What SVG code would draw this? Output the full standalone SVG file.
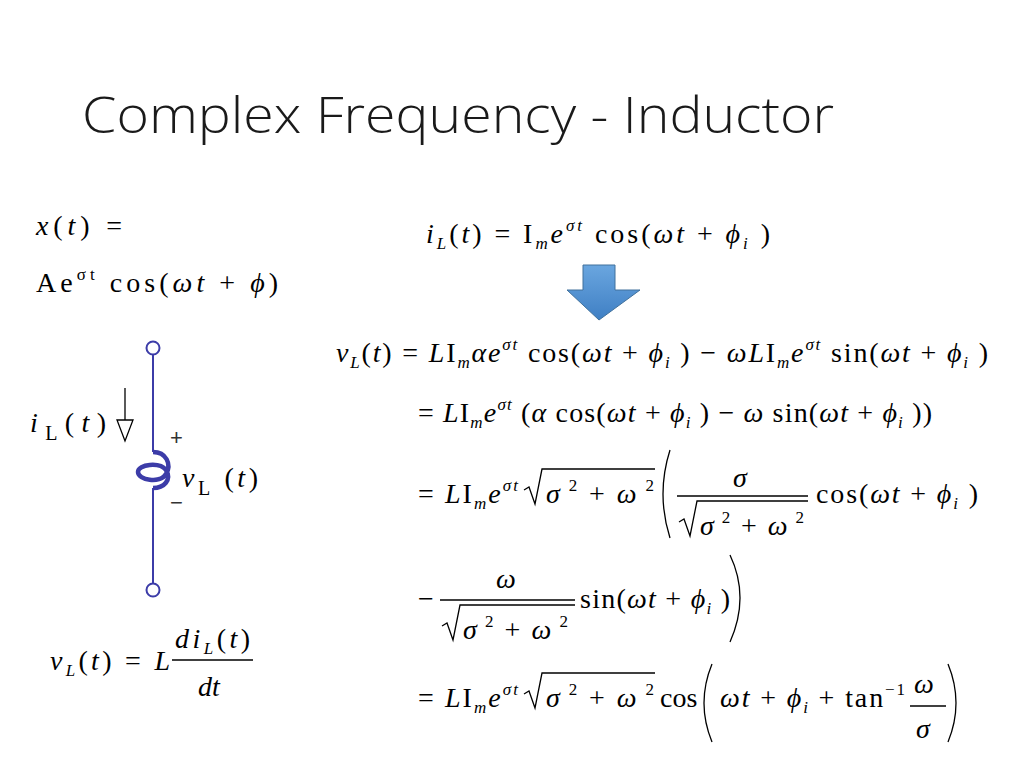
<svg xmlns="http://www.w3.org/2000/svg" width="1024" height="768" viewBox="0 0 1024 768">
<defs>
<linearGradient id="ag" x1="0" y1="0" x2="0" y2="1"><stop offset="0" stop-color="#6aa6df"/><stop offset="1" stop-color="#3f7fc4"/></linearGradient>
</defs>
<style>
.m{font-family:"Liberation Serif",serif;font-size:28px;fill:#000}
.i{font-style:italic}
.s{font-size:17px}
.ln{stroke:#000;stroke-width:1.3;fill:none}
.c{stroke:#3c3ca8;stroke-width:2;fill:none}
</style>
<rect width="1024" height="768" fill="#fff"/>
<text x="82" y="133" font-family="'Open Sans',sans-serif" font-weight="300" font-size="50" fill="#1a1a1a" textLength="752" lengthAdjust="spacingAndGlyphs">Complex Frequency - Inductor</text>

<text class="m" x="36" y="235" textLength="86"><tspan class="i">x</tspan>(<tspan class="i">t</tspan>) =</text>
<text class="m" x="36" y="292" textLength="242">Ae<tspan class="s" dy="-12">σt</tspan><tspan dy="12"> cos(</tspan><tspan class="i">ωt</tspan> + <tspan class="i">ϕ</tspan>)</text>

<text class="m" x="426" y="243" textLength="344"><tspan class="i">i</tspan><tspan class="s i" dy="6">L</tspan><tspan dy="-6">(</tspan><tspan class="i">t</tspan>) = I<tspan class="s i" dy="6">m</tspan><tspan class="i" dy="-6">e</tspan><tspan class="s i" dy="-12">σt</tspan><tspan dy="12"> cos(</tspan><tspan class="i">ωt</tspan> + <tspan class="i">ϕ</tspan><tspan class="s i" dy="6">i</tspan><tspan dy="-6"> )</tspan></text>

<path d="M583 265H615V290H640L599 320L567 290H583Z" fill="url(#ag)" stroke="#41719c" stroke-width="1"/>

<text class="m" x="336" y="362" textLength="652"><tspan class="i">v</tspan><tspan class="s i" dy="6">L</tspan><tspan dy="-6">(</tspan><tspan class="i">t</tspan>) = <tspan class="i">L</tspan>I<tspan class="s i" dy="6">m</tspan><tspan class="i" dy="-6">αe</tspan><tspan class="s i" dy="-12">σt</tspan><tspan dy="12"> cos(</tspan><tspan class="i">ωt</tspan> + <tspan class="i">ϕ</tspan><tspan class="s i" dy="6">i</tspan><tspan dy="-6"> ) − </tspan><tspan class="i">ωL</tspan>I<tspan class="s i" dy="6">m</tspan><tspan class="i" dy="-6">e</tspan><tspan class="s i" dy="-12">σt</tspan><tspan dy="12"> sin(</tspan><tspan class="i">ωt</tspan> + <tspan class="i">ϕ</tspan><tspan class="s i" dy="6">i</tspan><tspan dy="-6"> )</tspan></text>

<text class="m" x="418" y="422" textLength="514">= <tspan class="i">L</tspan>I<tspan class="s i" dy="6">m</tspan><tspan class="i" dy="-6">e</tspan><tspan class="s i" dy="-12">σt</tspan><tspan dy="12"> (</tspan><tspan class="i">α</tspan> cos(<tspan class="i">ωt</tspan> + <tspan class="i">ϕ</tspan><tspan class="s i" dy="6">i</tspan><tspan dy="-6"> ) − </tspan><tspan class="i">ω</tspan> sin(<tspan class="i">ωt</tspan> + <tspan class="i">ϕ</tspan><tspan class="s i" dy="6">i</tspan><tspan dy="-6"> ))</tspan></text>

<!-- line 3 -->
<text class="m" x="418" y="503" textLength="100">= <tspan class="i">L</tspan>I<tspan class="s i" dy="6">m</tspan><tspan class="i" dy="-6">e</tspan><tspan class="s i" dy="-12">σt</tspan></text>
<path class="ln" d="M524 490L529 487L535 504L542 469H655"/>
<text class="m" x="546" y="503" textLength="108"><tspan class="i">σ</tspan><tspan class="s" dy="-12"> 2</tspan><tspan dy="12"> + </tspan><tspan class="i">ω</tspan><tspan class="s" dy="-12"> 2</tspan></text>
<path class="ln" d="M670 450Q656 494 670 538"/>
<text class="m i" x="733" y="487">σ</text>
<path class="ln" d="M677 496H808"/>
<path class="ln" d="M679 522L684 519L690 536L697 501H808"/>
<text class="m" x="700" y="535" textLength="104"><tspan class="i">σ</tspan><tspan class="s" dy="-12"> 2</tspan><tspan dy="12"> + </tspan><tspan class="i">ω</tspan><tspan class="s" dy="-12"> 2</tspan></text>
<text class="m" x="816" y="503" textLength="162">cos(<tspan class="i">ωt</tspan> + <tspan class="i">ϕ</tspan><tspan class="s i" dy="6">i</tspan><tspan dy="-6"> )</tspan></text>

<!-- line 4 -->
<text class="m" x="418" y="608">−</text>
<text class="m i" x="496" y="588">ω</text>
<path class="ln" d="M440 600H575"/>
<path class="ln" d="M442 626L447 623L453 640L460 605H575"/>
<text class="m" x="463" y="639" textLength="105"><tspan class="i">σ</tspan><tspan class="s" dy="-12"> 2</tspan><tspan dy="12"> + </tspan><tspan class="i">ω</tspan><tspan class="s" dy="-12"> 2</tspan></text>
<text class="m" x="580" y="608" textLength="150">sin(<tspan class="i">ωt</tspan> + <tspan class="i">ϕ</tspan><tspan class="s i" dy="6">i</tspan><tspan dy="-6"> )</tspan></text>
<path class="ln" d="M730 555Q750 597 730 642"/>

<!-- line 5 -->
<text class="m" x="418" y="707" textLength="100">= <tspan class="i">L</tspan>I<tspan class="s i" dy="6">m</tspan><tspan class="i" dy="-6">e</tspan><tspan class="s i" dy="-12">σt</tspan></text>
<path class="ln" d="M524 694L529 691L535 708L542 673H655"/>
<text class="m" x="546" y="707" textLength="108"><tspan class="i">σ</tspan><tspan class="s" dy="-12"> 2</tspan><tspan dy="12"> + </tspan><tspan class="i">ω</tspan><tspan class="s" dy="-12"> 2</tspan></text>
<text class="m" x="660" y="707">cos</text>
<path class="ln" d="M712 664Q696 703 712 742"/>
<text class="m" x="720" y="707" textLength="185"><tspan class="i">ωt</tspan> + <tspan class="i">ϕ</tspan><tspan class="s i" dy="6">i</tspan><tspan dy="-6"> + tan</tspan><tspan class="s" dy="-12">−1</tspan></text>
<text class="m i" x="914" y="693">ω</text>
<path class="ln" d="M910 706H946"/>
<text class="m i" x="916" y="738">σ</text>
<path class="ln" d="M948 664Q964 703 948 742"/>

<!-- v_L = L di/dt -->
<text class="m" x="50" y="670" textLength="120"><tspan class="i">v</tspan><tspan class="s i" dy="6">L</tspan><tspan dy="-6">(</tspan><tspan class="i">t</tspan>) = <tspan class="i">L</tspan></text>
<text class="m" x="175" y="648" textLength="75"><tspan class="i">di</tspan><tspan class="s i" dy="6">L</tspan><tspan dy="-6">(</tspan><tspan class="i">t</tspan>)</text>
<path class="ln" d="M172 660H253"/>
<text class="m i" x="198" y="696">dt</text>

<!-- circuit -->
<g id="inductor">
<path class="c" d="M153 355V452"/>
<path class="c" d="M153 488V583"/>
<circle cx="153" cy="348" r="6.5" fill="#fff" stroke="#3c3ca8" stroke-width="2"/>
<circle cx="153" cy="590" r="6.5" fill="#fff" stroke="#3c3ca8" stroke-width="2"/>
<path d="M153 452C166 452 172 464 166 474C160 484 138 480 138 472C138 464 160 462 166 470C172 480 164 488 153 488" fill="none" stroke="#3c3ca8" stroke-width="4.5"/>
</g>
<path class="ln" d="M125 388V420"/>
<path d="M117 420H133L125 441Z" fill="#fff" stroke="#000" stroke-width="1.3"/>
<text class="m" x="30" y="432" font-size="32" textLength="76"><tspan class="i">i</tspan><tspan font-size="20" dy="8">L</tspan><tspan dy="-8">(</tspan><tspan class="i">t</tspan>)</text>
<text x="170" y="445" font-family="'Liberation Sans',sans-serif" font-size="22" fill="#333">+</text>
<text x="170" y="510" font-family="'Liberation Sans',sans-serif" font-size="22" fill="#333">−</text>
<text class="m" x="182" y="487" font-size="32" textLength="76"><tspan class="i">v</tspan><tspan font-size="20" dy="8">L</tspan><tspan dy="-8"> (</tspan><tspan class="i">t</tspan>)</text>
</svg>
